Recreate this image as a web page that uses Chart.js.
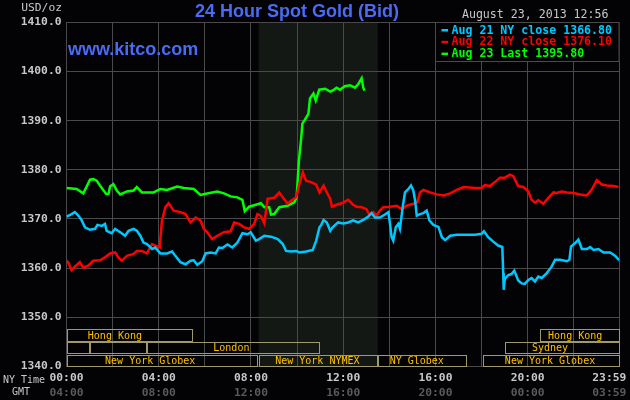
<!DOCTYPE html>
<html>
<head>
<meta charset="utf-8">
<script src="https://cdn.jsdelivr.net/npm/chart.js@4/dist/chart.umd.min.js"></script>
<style>
  body { margin: 0; background: #030306; }
  canvas { display: block; }
</style>
</head>
<body>
<canvas id="chart" width="630" height="400"></canvas>
<script>
// 24時間 スポット金価格 (NY時間)
var aug21Hours = [0.00,0.22,0.36,0.51,0.65,0.80,1.02,1.24,1.34,1.53,1.67,1.74,1.96,2.11,2.33,2.54,2.69,2.91,3.05,3.20,3.34,3.49,3.71,3.85,4.07,4.36,4.58,4.72,4.94,5.16,5.38,5.52,5.67,5.89,6.03,6.25,6.47,6.61,6.76,6.98,7.19,7.41,7.63,7.85,7.99,8.21,8.36,8.58,8.87,9.16,9.38,9.52,9.74,9.96,10.10,10.39,10.68,10.83,10.97,11.05,11.15,11.29,11.44,11.54,11.78,12.00,12.22,12.43,12.65,12.87,13.09,13.23,13.38,13.59,13.81,13.96,14.03,14.10,14.17,14.28,14.39,14.46,14.58,14.68,14.83,14.94,15.04,15.12,15.19,15.33,15.48,15.62,15.74,15.91,16.13,16.28,16.42,16.64,16.93,17.22,17.72,18.00,18.10,18.29,18.51,18.72,18.90,18.94,18.96,19.01,19.16,19.30,19.42,19.59,19.74,19.88,20.03,20.17,20.32,20.46,20.61,20.83,21.04,21.19,21.41,21.70,21.81,21.88,22.06,22.20,22.35,22.57,22.71,22.86,23.07,23.29,23.58,23.80,23.97];
var aug21Prices = [1370.5,1371.0,1371.4,1370.7,1369.8,1368.3,1367.8,1368.0,1368.8,1368.6,1369.0,1367.6,1367.1,1368.0,1367.3,1366.6,1367.6,1368.0,1367.6,1366.6,1365.2,1364.9,1363.9,1364.2,1363.0,1363.0,1363.4,1362.5,1361.2,1360.8,1361.5,1361.6,1360.7,1361.4,1363.0,1363.2,1363.0,1364.2,1364.1,1364.8,1364.2,1365.2,1367.1,1366.9,1367.3,1365.6,1365.9,1366.6,1366.4,1365.9,1364.9,1363.5,1363.4,1363.5,1363.2,1363.4,1363.7,1365.6,1368.3,1368.8,1369.8,1369.3,1367.6,1368.3,1369.3,1369.1,1369.3,1369.7,1369.3,1369.8,1370.5,1371.2,1370.3,1370.3,1370.9,1371.4,1369.0,1366.3,1365.6,1368.3,1369.0,1368.0,1372.4,1375.4,1376.1,1376.8,1375.8,1373.7,1370.7,1371.0,1371.2,1371.7,1369.7,1368.8,1368.4,1366.3,1365.7,1366.6,1366.8,1366.8,1366.8,1367.0,1367.5,1366.3,1365.4,1364.6,1364.3,1359.0,1355.6,1357.8,1358.6,1358.8,1359.5,1357.5,1356.9,1356.8,1357.6,1358.0,1357.3,1358.3,1358.0,1359.0,1360.3,1361.7,1361.7,1361.4,1361.7,1364.4,1365.1,1365.8,1363.9,1363.9,1364.3,1363.7,1363.9,1363.2,1363.2,1362.5,1361.6];

var aug22Hours = [0.00,0.07,0.22,0.36,0.58,0.73,0.94,1.16,1.45,1.67,1.89,2.11,2.25,2.40,2.62,2.91,3.05,3.27,3.49,3.71,3.85,4.04,4.14,4.29,4.43,4.65,4.94,5.16,5.38,5.60,5.81,5.96,6.10,6.32,6.54,6.83,7.12,7.27,7.49,7.70,7.92,8.14,8.28,8.43,8.58,8.72,9.01,9.23,9.38,9.59,9.74,9.96,10.10,10.25,10.39,10.61,10.83,10.97,11.15,11.29,11.44,11.51,11.71,11.93,12.22,12.43,12.58,12.80,13.01,13.13,13.30,13.45,13.59,13.74,14.03,14.32,14.54,14.75,15.04,15.22,15.33,15.48,15.77,16.06,16.35,16.64,16.93,17.22,17.72,18.00,18.14,18.36,18.58,18.80,19.01,19.23,19.38,19.59,19.81,20.03,20.17,20.32,20.46,20.68,20.90,21.12,21.26,21.48,21.70,21.99,22.28,22.57,22.78,23.00,23.22,23.43,23.72,23.94];
var aug22Prices = [1361.5,1361.2,1359.6,1360.3,1361.2,1360.1,1360.5,1361.5,1361.6,1362.2,1363.0,1363.2,1362.2,1361.5,1362.5,1362.9,1363.5,1363.5,1363.0,1364.9,1364.6,1364.2,1369.7,1372.4,1373.2,1371.7,1371.4,1371.0,1369.3,1370.3,1369.7,1368.0,1367.3,1365.9,1366.6,1367.3,1367.5,1369.3,1369.0,1368.3,1368.0,1369.0,1371.0,1370.6,1369.1,1374.1,1374.3,1375.4,1374.4,1373.1,1373.7,1374.4,1377.1,1379.5,1377.8,1377.5,1377.0,1375.4,1376.8,1375.4,1374.1,1372.5,1372.9,1373.2,1373.9,1372.9,1372.5,1372.4,1372.0,1370.9,1371.4,1370.7,1371.7,1372.4,1372.5,1372.7,1372.0,1372.7,1373.1,1373.4,1375.4,1375.9,1375.4,1375.0,1374.8,1375.2,1375.9,1376.5,1376.3,1376.3,1376.9,1376.7,1377.5,1378.4,1378.4,1379.0,1378.7,1376.7,1376.5,1375.6,1373.9,1373.3,1373.8,1373.1,1374.3,1375.4,1375.3,1375.6,1375.4,1375.3,1375.0,1374.8,1376.0,1377.9,1377.0,1376.8,1376.7,1376.5];

var aug23Hours = [0.00,0.44,0.73,1.02,1.16,1.31,1.45,1.72,1.82,1.89,2.03,2.18,2.33,2.62,2.91,3.05,3.27,3.49,3.78,4.07,4.36,4.80,5.09,5.52,5.81,6.10,6.54,6.83,7.12,7.41,7.63,7.73,7.92,8.14,8.43,8.58,8.79,8.87,9.01,9.23,9.59,9.88,9.98,10.08,10.17,10.23,10.34,10.49,10.56,10.71,10.81,10.96,11.22,11.44,11.57,11.71,11.86,12.07,12.29,12.51,12.65,12.80,12.87,12.93];
var aug23Prices = [1376.3,1376.1,1375.2,1378.0,1378.1,1377.8,1376.8,1375.1,1375.1,1376.6,1377.1,1375.8,1375.0,1375.6,1375.8,1376.5,1375.4,1375.4,1375.4,1376.1,1375.9,1376.6,1376.3,1376.1,1374.9,1375.2,1375.6,1375.2,1374.6,1374.4,1373.9,1371.6,1372.5,1372.8,1373.2,1372.4,1372.4,1370.9,1371.0,1372.4,1372.7,1373.4,1374.4,1381.9,1386.0,1389.4,1390.2,1391.4,1394.5,1395.5,1394.1,1396.3,1396.5,1395.9,1396.2,1396.7,1396.3,1397.0,1397.2,1396.7,1397.4,1398.6,1396.7,1396.1];

var seriesLabels = ['Aug 21 NY close 1366.80', 'Aug 22 NY close 1376.10', 'Aug 23 Last 1395.80'];

// 目盛
var gridHours = [0, 2, 4, 6, 8, 10, 12, 14, 16, 18, 20, 22, 23.983];
var labelHours = [0, 4, 8, 12, 16, 20, 23.983];
var nyTickLabels = ['00:00', '04:00', '08:00', '12:00', '16:00', '20:00', '23:59'];
var gmtTickLabels = ['04:00', '08:00', '12:00', '16:00', '20:00', '00:00', '03:59'];
var priceTicks = [1340, 1350, 1360, 1370, 1380, 1390, 1400, 1410];

// COMEX 立会時間 (網掛け)
var comexHours = [8.333, 13.5];

// 市場セッション [名前, 開始, 終了, 段, ラベル位置]
var sessions = [
  ['Hong Kong', 0, 5.5, 0, 2.1],
  ['Hong Kong', 20.55, 23.983, 0, 22.06],
  ['', 0, 1.0, 1, 0],
  ['', 1.0, 3.5, 1, 0],
  ['London', 3.5, 11.0, 1, 7.15],
  ['Sydney', 19.0, 23.983, 1, 20.97],
  ['New York Globex', 0, 8.3, 2, 3.63],
  ['New York NYMEX', 8.36, 13.5, 2, 10.88],
  ['NY Globex', 13.5, 17.37, 2, 15.19],
  ['New York Globex', 18.05, 23.983, 2, 20.97]
];

function toPoints(hours, prices) {
  return hours.map(function(h, i) { return {x: h, y: prices[i]}; });
}

var mono = '"DejaVu Sans Mono", "Liberation Mono", monospace';
var gridColor = '#4a4a4a';

var kitcoPlugin = {
  id: 'kitco',
  beforeDraw: function(chart) {
    var ctx = chart.ctx, a = chart.chartArea, x = chart.scales.x;
    ctx.save();
    ctx.fillStyle = '#030306';
    ctx.fillRect(0, 0, chart.width, chart.height);
    // 網掛け
    var x0 = x.getPixelForValue(comexHours[0]);
    var x1 = x.getPixelForValue(comexHours[1]);
    ctx.fillStyle = '#141814';
    ctx.fillRect(x0, a.top, x1 - x0, a.bottom - a.top);
    ctx.restore();
  },
  afterDatasetsDraw: function(chart) {
    var ctx = chart.ctx, a = chart.chartArea, x = chart.scales.x;
    ctx.save();
    // セッション枠
    var rowTop = [a.bottom - 38, a.bottom - 25, a.bottom - 12];
    var rowH = [13, 12, 12];
    ctx.lineWidth = 1;
    ctx.font = '10px ' + mono;
    ctx.textAlign = 'center';
    ctx.textBaseline = 'middle';
    sessions.forEach(function(s) {
      var l = Math.round(x.getPixelForValue(s[1])) + 0.5;
      var r = Math.round(x.getPixelForValue(s[2])) - 0.5;
      var t = Math.round(rowTop[s[3]]) + 0.5;
      ctx.strokeStyle = '#a09a6a';
      ctx.strokeRect(l, t, r - l, rowH[s[3]] - 1);
      if (s[0]) {
        ctx.fillStyle = '#ffc000';
        ctx.fillText(s[0], x.getPixelForValue(s[4]), t + rowH[s[3]] / 2);
      }
    });

    // 凡例
    var lx = Math.round(x.getPixelForValue(16)) + 0.5;
    var lt = Math.round(a.top) + 0.5;
    var lb = lt + 39;
    ctx.fillStyle = '#030306';
    ctx.fillRect(lx, lt, a.right - lx, lb - lt);
    ctx.strokeStyle = gridColor;
    ctx.strokeRect(lx, lt, a.right - lx - 0.5, lb - lt);
    ctx.font = 'bold 11.6px ' + mono;
    ctx.textAlign = 'left';
    chart.data.datasets.forEach(function(ds, i) {
      var yy = lt + 7.5 + i * 11.8;
      ctx.fillStyle = ds.borderColor;
      ctx.fillRect(lx + 6, yy - 1, 6.5, 2.5);
      ctx.fillText(ds.label, lx + 16, yy + 0.5);
    });

    ctx.font = 'bold 18px "Liberation Sans", Arial, sans-serif';
    ctx.fillStyle = '#4a6cf4';
    ctx.textBaseline = 'alphabetic';
    ctx.fillText('www.kitco.com', a.left + 1.5, 55);
    ctx.restore();
  },
  afterDraw: function(chart) {
    var ctx = chart.ctx;
    ctx.save();
    ctx.font = 'bold 18px "Liberation Sans", Arial, sans-serif';
    ctx.fillStyle = '#4a6cf4';
    ctx.textAlign = 'center';
    ctx.fillText('24 Hour Spot Gold (Bid)', 297, 17);

    ctx.textBaseline = 'middle';
    ctx.fillStyle = '#c8c8c8';
    ctx.font = '11.6px ' + mono;
    ctx.textAlign = 'right';
    ctx.fillText('August 23, 2013 12:56', 608.5, 15);
    ctx.font = '11.3px ' + mono;
    ctx.fillText('USD/oz', 62, 8.5);

    ctx.font = '10px ' + mono;
    ctx.textAlign = 'left';
    ctx.fillText('NY Time', 3, 380);
    ctx.fillText('GMT', 12, 392);
    ctx.restore();
  }
};

function fixTicks(scale) {
  scale.ticks = gridHours.map(function(v) { return {value: v}; });
}

new Chart(document.getElementById('chart'), {
  type: 'line',
  data: {
    datasets: [{
      label: seriesLabels[0],
      data: toPoints(aug21Hours, aug21Prices),
      borderColor: '#00c8ff',
    }, {
      label: seriesLabels[1],
      data: toPoints(aug22Hours, aug22Prices),
      borderColor: '#ff0000',
    }, {
      label: seriesLabels[2],
      data: toPoints(aug23Hours, aug23Prices),
      borderColor: '#00ff00',
    }],
  },
  options: {
    responsive: false,
    animation: false,
    layout: { padding: { top: 22.3, right: 10.5, left: 0, bottom: 0 } },
    elements: {
      point: { radius: 0 },
      line: { borderWidth: 2.5, tension: 0 },
    },
    plugins: {
      legend: { display: false },
      tooltip: { enabled: false },
    },
    scales: {
      x: {
        type: 'linear',
        min: 0,
        max: 23.983,
        position: 'bottom',
        weight: 0,
        afterBuildTicks: fixTicks,
        afterFit: function(s) { s.height = 18; s.paddingLeft = 0; s.paddingRight = 0; },
        grid: { color: gridColor, drawTicks: false },
        border: { color: gridColor },
        ticks: {
          autoSkip: false,
          maxRotation: 0,
          padding: 5,
          color: '#c8c8c8',
          font: { family: mono, size: 11.3, weight: 'bold' },
          callback: function(v) {
            var i = labelHours.indexOf(v);
            if (i < 0) return '';
            return nyTickLabels[i] + (i === labelHours.length - 1 ? '   ' : '');
          },
        },
      },
      x2: {
        type: 'linear',
        axis: 'x',
        min: 0,
        max: 23.983,
        position: 'bottom',
        weight: 1,
        afterBuildTicks: fixTicks,
        afterFit: function(s) { s.height = 15.5; s.paddingLeft = 0; s.paddingRight = 0; },
        grid: { display: false, drawTicks: false },
        border: { display: false },
        ticks: {
          autoSkip: false,
          maxRotation: 0,
          padding: 2,
          color: '#5a5a5a',
          font: { family: mono, size: 11.3, weight: 'bold' },
          callback: function(v) {
            var i = labelHours.indexOf(v);
            if (i < 0) return '';
            return gmtTickLabels[i] + (i === labelHours.length - 1 ? '   ' : '');
          },
        },
      },
      y: {
        min: 1340,
        max: 1410,
        afterBuildTicks: function(s) { s.ticks = priceTicks.map(function(v) { return {value: v}; }); },
        afterFit: function(s) { s.width = 66.5; },
        grid: { color: gridColor, drawTicks: false },
        border: { color: gridColor },
        ticks: {
          padding: 5,
          color: '#c8c8c8',
          font: { family: mono, size: 11.3, weight: 'bold' },
          callback: function(v) { return v.toFixed(1); },
        },
      },
    },
  },
  plugins: [kitcoPlugin],
});
</script>
</body>
</html>
